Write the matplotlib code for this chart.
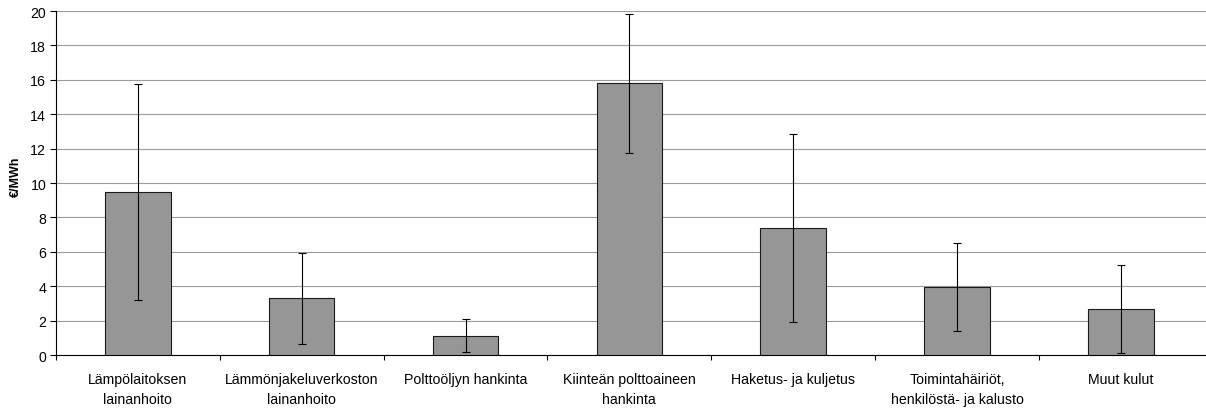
import matplotlib
matplotlib.use("Agg")
import matplotlib.pyplot as plt
import numpy as np

plt.rcParams['font.family'] = ['Liberation Sans', 'DejaVu Sans']

categories = ["Lämpölaitoksen\nlainanhoito", "Lämmönjakeluverkoston\nlainanhoito",
              "Polttoöljyn hankinta", "Kiinteän polttoaineen\nhankinta",
              "Haketus- ja kuljetus", "Toimintahäiriöt,\nhenkilöstä- ja kalusto",
              "Muut kulut"]
values = [9.46, 3.29, 1.12, 15.79, 7.38, 3.95, 2.67]
errors = [6.27, 2.64, 0.95, 4.04, 5.48, 2.58, 2.57]
yticks = [0, 2, 4, 6, 8, 10, 12, 14, 16, 18, 20]

fig = plt.figure(figsize=(12.06, 4.10), dpi=100)
ax = fig.add_axes([0.0464, 0.1317, 0.9536, 0.8390])

x = np.arange(len(categories))
ax.bar(x, values, width=0.40, color='#969696', edgecolor='#1a1a1a', linewidth=0.8, zorder=3)
ax.errorbar(x, values, yerr=errors, fmt='none', ecolor='black', elinewidth=0.8,
            capsize=3, capthick=0.8, zorder=4)

ax.set_xlim(-0.5, len(categories) - 0.48)
ax.set_ylim(0, 20)
ax.set_yticks(yticks)
ax.set_yticklabels([str(t) for t in yticks], fontsize=10.2)
ax.yaxis.grid(True, color='#9a9a9a', linewidth=0.8, zorder=0)
ax.set_axisbelow(True)

ax.set_xticks(x)
ax.set_xticklabels(categories, fontsize=10.2, linespacing=1.55)
ax.tick_params(axis='x', which='major', length=0, pad=12)
ax.set_xticks(np.arange(len(categories)) - 0.5, minor=True)
ax.tick_params(axis='x', which='minor', length=3.5, width=0.8, direction='out')
ax.tick_params(axis='y', length=4, width=0.8, direction='out', pad=3)

ax.set_ylabel("€/MWh", fontsize=9, fontweight='bold')
ax.yaxis.set_label_coords(-0.030, 0.52)

for s in ['top', 'right']:
    ax.spines[s].set_visible(False)
ax.spines['left'].set_linewidth(0.8)
ax.spines['bottom'].set_linewidth(0.8)

fig.savefig("out.png", dpi=100)
